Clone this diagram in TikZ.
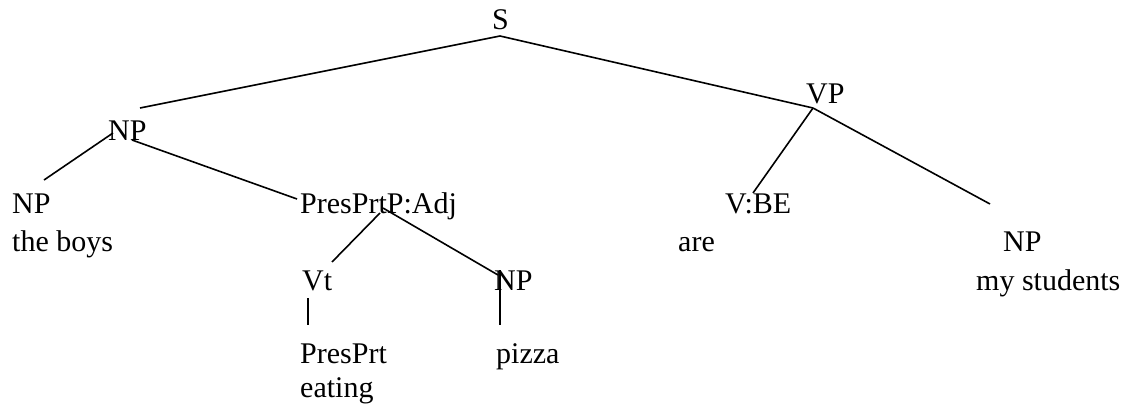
\documentclass[tikz,border=0pt]{standalone}
\usepackage{fontspec}
\setmainfont{Liberation Serif}
\begin{document}
\begin{tikzpicture}[x=1pt,y=-1pt,
  lbl/.style={anchor=base west, inner sep=0pt, font=\fontsize{30}{36}\selectfont},
  edge/.style={line width=1.6pt}]
\useasboundingbox (0,0) rectangle (1130,404);
% labels
\node[lbl] (S) at (492,30) {S};
\node[lbl] (VP) at (806,103) {VP};
\node[lbl] (NPa) at (108,140) {NP};
\node[lbl] (NPb) at (12,213) {NP};
\node[lbl] (boys) at (12,251) {the boys};
\node[lbl] (PPA) at (300,213) {PresPrtP:Adj};
\node[lbl] (VBE) at (725,213) {V:BE};
\node[lbl] (are) at (678,251) {are};
\node[lbl] (NPc) at (1003,251) {NP};
\node[lbl] (stud) at (976,290) {my students};
\node[lbl] (Vt) at (302,290) {Vt};
\node[lbl] (NPd) at (494,290) {NP};
\node[lbl] (PP) at (300,363) {PresPrt};
\node[lbl] (eat) at (300,397) {eating};
\node[lbl] (pizza) at (496,363) {pizza};
% connector end points
\coordinate (s-b) at (500,36);
\coordinate (npa-t) at (140,108);
\coordinate (vp-t) at (813,108);
\coordinate (npa-l) at (113,133);
\coordinate (npb-t) at (44,180);
\coordinate (npa-r) at (132,140);
\coordinate (ppa-t) at (297,199);
\coordinate (ppa-b1) at (380,213);
\coordinate (vt-t) at (332,262);
\coordinate (ppa-b2) at (383,208);
\coordinate (npd-t) at (498,275);
\coordinate (vbe-t) at (753,193);
\coordinate (npc-t) at (990,204);
\coordinate (vt-b) at (308,298);
\coordinate (pp-t) at (308,325);
\coordinate (npd-b) at (500,270);
\coordinate (pizza-t) at (500,325);
% connectors
\draw[edge] (npa-t) -- (s-b) -- (vp-t);
\draw[edge] (npa-l) -- (npb-t);
\draw[edge] (npa-r) -- (ppa-t);
\draw[edge] (ppa-b1) -- (vt-t);
\draw[edge] (ppa-b2) -- (npd-t);
\draw[edge] (vp-t) -- (vbe-t);
\draw[edge] (vp-t) -- (npc-t);
\draw[edge] (vt-b) -- (pp-t);
\draw[edge] (npd-b) -- (pizza-t);
\end{tikzpicture}
\end{document}
